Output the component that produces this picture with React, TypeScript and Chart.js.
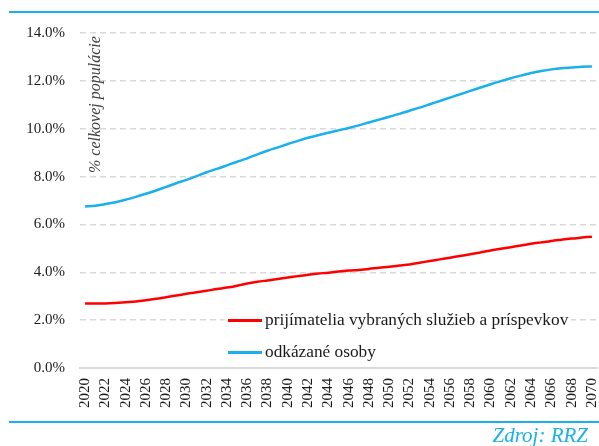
import React, { useEffect, useRef } from "react";
import { Chart, registerables } from "chart.js";

Chart.register(...registerables);

const years: number[] = [];
for (let y = 2020; y <= 2070; y++) years.push(y);
const categories = years.map((y) => String(y));

const recipients = [
  2.70, 2.70, 2.70, 2.72, 2.75, 2.78, 2.83, 2.89, 2.96, 3.03,
  3.10, 3.17, 3.23, 3.30, 3.36, 3.44, 3.53, 3.60, 3.66, 3.72,
  3.78, 3.84, 3.90, 3.95, 3.98, 4.03, 4.07, 4.10, 4.14, 4.19,
  4.23, 4.28, 4.33, 4.40, 4.47, 4.54, 4.61, 4.68, 4.75, 4.83,
  4.91, 4.98, 5.05, 5.12, 5.19, 5.25, 5.31, 5.36, 5.41, 5.45,
  5.49,
];

const dependent = [
  6.75, 6.78, 6.85, 6.93, 7.03, 7.15, 7.28, 7.42, 7.57, 7.72,
  7.86, 8.02, 8.18, 8.32, 8.47, 8.62, 8.76, 8.93, 9.08, 9.22,
  9.36, 9.49, 9.62, 9.73, 9.83, 9.93, 10.03, 10.14, 10.26, 10.38,
  10.50, 10.62, 10.75, 10.88, 11.02, 11.16, 11.30, 11.44, 11.58, 11.72,
  11.86, 11.99, 12.11, 12.22, 12.33, 12.41, 12.48, 12.53, 12.56, 12.59,
  12.60,
];

const seriesNames = ["prijímatelia vybraných služieb a príspevkov", "odkázané osoby"];
const yAxisTitle = "% celkovej populácie";
const sourceText = "Zdroj: RRZ";

const RED = "#ff0000";
const BLUE = "#1ab0ec";
const SERIF = '"Liberation Serif", "Times New Roman", serif';

const overlayPlugin = {
  id: "overlay",
  afterDatasetsDraw(chart: any) {
    const ctx = chart.ctx as CanvasRenderingContext2D;
    const area = chart.chartArea;
    // rotated y-axis title inside plot
    ctx.save();
    ctx.font = `italic 16px ${SERIF}`;
    ctx.fillStyle = "#404040";
    ctx.translate(area.left + 20, area.top + 140);
    ctx.rotate(-Math.PI / 2);
    ctx.textAlign = "left";
    ctx.textBaseline = "alphabetic";
    ctx.fillText(yAxisTitle, 0, 0);
    ctx.restore();

    // legend box
    ctx.save();
    const lx = 228;
    const ly = 320.5;
    const gap = 32;
    ctx.fillStyle = "#ffffff";
    ctx.fillRect(lx - 3, ly - 15, 346, 60);
    chart.data.datasets.forEach((ds: any, i: number) => {
      const y = ly + i * gap;
      ctx.strokeStyle = ds.borderColor;
      ctx.lineWidth = 3;
      ctx.beginPath();
      ctx.moveTo(lx, y);
      ctx.lineTo(lx + 34, y);
      ctx.stroke();
      ctx.font = `17.3px ${SERIF}`;
      ctx.fillStyle = "#1a1a1a";
      ctx.textAlign = "left";
      ctx.textBaseline = "middle";
      ctx.fillText(ds.label, lx + 37, y);
    });
    ctx.restore();
  },
};

export default function App() {
  const ref = useRef<HTMLCanvasElement | null>(null);

  useEffect(() => {
    if (!ref.current) return;
    const chart = new Chart(ref.current, {
      type: "line",
      data: {
        labels: categories,
        datasets: [
          {
            label: seriesNames[0],
            data: recipients,
            borderColor: RED,
            backgroundColor: RED,
            borderWidth: 2.5,
            pointRadius: 0,
            tension: 0.3,
          },
          {
            label: seriesNames[1],
            data: dependent,
            borderColor: BLUE,
            backgroundColor: BLUE,
            borderWidth: 2.5,
            pointRadius: 0,
            tension: 0.3,
          },
        ],
      },
      options: {
        responsive: false,
        animation: false,
        layout: { padding: { top: 33, right: 2, left: 0, bottom: 0 } },
        plugins: {
          legend: { display: false },
          tooltip: { enabled: false },
        },
        scales: {
          x: {
            type: "category",
            offset: true,
            grid: { display: false, drawTicks: false },
            border: { display: true, color: "#d9d9d9", width: 2 },
            ticks: {
              autoSkip: false,
              minRotation: 90,
              maxRotation: 90,
              padding: 10,
              color: "#1a1a1a",
              font: { family: SERIF, size: 15 },
              callback: (_v: any, i: number) => (years[i] % 2 === 0 ? categories[i] : ""),
            },
            afterFit: (s: any) => {
              s.height = 78;
              s.paddingLeft = 0;
              s.paddingRight = 0;
            },
          },
          y: {
            min: 0,
            max: 14,
            ticks: {
              stepSize: 2,
              padding: 15,
              color: "#1a1a1a",
              font: { family: SERIF, size: 15 },
              callback: (v: any) => Number(v).toFixed(1) + "%",
            },
            grid: {
              drawTicks: false,
              color: (c: any) => (c.tick && c.tick.value === 0 ? "rgba(0,0,0,0)" : "#d9d9d9"),
              lineWidth: 1.5,
            },
            border: { display: false, dash: [6, 4] },
            afterFit: (s: any) => {
              s.width = 80;
              s.paddingTop = 0;
              s.paddingBottom = 0;
            },
          },
        },
      },
      plugins: [overlayPlugin],
    });
    return () => chart.destroy();
  }, []);

  return (
    <div style={{ position: "absolute", left: 0, top: 0, width: 599, height: 446, background: "#fff" }}>
      <div style={{ position: "absolute", left: 9, top: 11, width: 590, height: 2, background: BLUE }} />
      <canvas ref={ref} width={599} height={446} style={{ position: "absolute", left: 0, top: 0 }} />
      <div style={{ position: "absolute", left: 9, top: 421, width: 590, height: 2, background: BLUE }} />
      <div
        style={{
          position: "absolute",
          right: 11,
          top: 424,
          fontFamily: SERIF,
          fontStyle: "italic",
          fontSize: 21,
          color: BLUE,
          lineHeight: "22px",
          whiteSpace: "nowrap",
        }}
      >
        {sourceText}
      </div>
    </div>
  );
}
